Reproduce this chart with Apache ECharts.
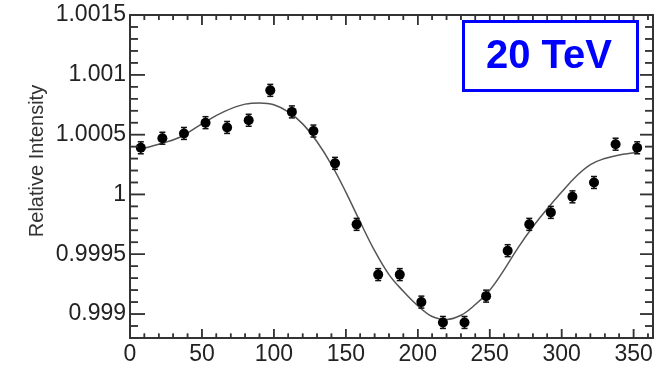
<!DOCTYPE html>
<html><head><meta charset="utf-8">
<script src="https://cdn.jsdelivr.net/npm/echarts@6/dist/echarts.min.js"></script>
<style>html,body{margin:0;padding:0;background:#fff}#c{width:662px;height:368px}</style>
</head><body><div id="c"></div>
<script>
// ---- data ----
const phi = [7.5,22.5,37.5,52.5,67.5,82.5,97.5,112.5,127.5,142.5,157.5,172.5,187.5,202.5,217.5,232.5,247.5,262.5,277.5,292.5,307.5,322.5,337.5,352.5];
const intensity = [1.00039,1.00047,1.00051,1.00060,1.00056,1.00062,1.00087,1.00069,1.00053,1.00026,0.99975,0.99933,0.99933,0.99910,0.99893,0.99893,0.99915,0.99953,0.99975,0.99985,0.99998,1.00010,1.00042,1.00039];
const errors = [0.00005,0.00005,0.00005,0.00005,0.00005,0.00005,0.00005,0.00005,0.00005,0.00005,0.00005,0.00005,0.00005,0.00005,0.00005,0.00005,0.00005,0.00005,0.00005,0.00005,0.00005,0.00005,0.00005,0.00005];
const fitPhi = [7.5,20,35,50,65,80,90,100,110,120,130,140,150,160,170,180,190,200,210,220,230,240,250,260,270,280,290,300,310,320,330,340,352.5];
const fitValues = [1.00038,1.00042,1.00048,1.00059,1.00069,1.000755,1.000765,1.00075,1.00069,1.00059,1.00044,1.00025,1.00002,0.99977,0.99953,0.99933,0.99919,0.99907,0.99898,0.998955,0.99899,0.99908,0.99920,0.99937,0.99956,0.99973,0.99988,1.00002,1.00015,1.00025,1.00030,1.00033,1.00035];
const xTickValues = [0,50,100,150,200,250,300,350];
const xTickLabels = ['0','50','100','150','200','250','300','350'];
const xMinorTicks = [10,20,30,40,60,70,80,90,110,120,130,140,160,170,180,190,210,220,230,240,260,270,280,290,310,320,330,340,360];
const yTickValues = [0.999,0.9995,1,1.0005,1.001,1.0015];
const yTickLabels = ['0.999','0.9995','1','1.0005','1.001','1.0015'];
const yMinorTicks = [0.9988,0.9989,0.9991,0.9992,0.9993,0.9994,0.9996,0.9997,0.9998,0.9999,1.0001,1.0002,1.0003,1.0004,1.0006,1.0007,1.0008,1.0009,1.0011,1.0012,1.0013,1.0014];
const yAxisTitle = 'Relative Intensity';
const boxLabel = '20 TeV';

// ---- chart ----
const chart = echarts.init(document.getElementById('c'), null, {renderer:'canvas'});
const AX = '#333';
const FONT = 'Liberation Sans, Arial, Helvetica, sans-serif';
const xRange = {min:0, max:363.5};
const yRange = {min:0.9988, max:1.0015};
const lineStyle = {color:AX, width:2};
const TW = 1.5;

// tick marks as rect symbols placed at the axis values, shifted inward by half their length
function tickSeries(data, w, h, off){
  return {type:'scatter', xAxisIndex:0, yAxisIndex:0, z:6, clip:false, symbol:'rect',
    symbolSize:[w, h], symbolOffset:off, itemStyle:{color:AX, opacity:1}, emphasis:{disabled:true},
    data:data};
}
const tickSeriesList = [
  tickSeries(xTickValues.map(v=>[v, yRange.min]), TW, 9, [0, -4.5]),
  tickSeries(xMinorTicks.map(v=>[v, yRange.min]), TW, 4.5, [0, -2.25]),
  tickSeries(xTickValues.map(v=>[v, yRange.max]), TW, 10, [0, 5]),
  tickSeries(xMinorTicks.map(v=>[v, yRange.max]), TW, 5, [0, 2.5]),
  tickSeries(yTickValues.map(v=>[xRange.min, v]), 15, TW, [7.5, 0]),
  tickSeries(yMinorTicks.map(v=>[xRange.min, v]), 8, TW, [4, 0]),
  tickSeries(yTickValues.map(v=>[xRange.max, v]), 13, TW, [-6.5, 0]),
  tickSeries(yMinorTicks.map(v=>[xRange.max, v]), 8, TW, [-4, 0])
];

// same ticks also drawn inside the error-bar custom series (first item), via api.coord
function tickChildren(api){
  const out = [], st = {stroke:AX, lineWidth:TW};
  const add = (vals, len, isX) => vals.forEach(v=>{
    if (isX){
      const b = api.coord([v, yRange.min]), t = api.coord([v, yRange.max]);
      out.push({type:'line', shape:{x1:b[0],y1:b[1],x2:b[0],y2:b[1]-len[0]}, style:st});
      out.push({type:'line', shape:{x1:t[0],y1:t[1],x2:t[0],y2:t[1]+len[1]}, style:st});
    } else {
      const l = api.coord([xRange.min, v]), r = api.coord([xRange.max, v]);
      out.push({type:'line', shape:{x1:l[0],y1:l[1],x2:l[0]+len[0],y2:l[1]}, style:st});
      out.push({type:'line', shape:{x1:r[0],y1:r[1],x2:r[0]-len[1],y2:r[1]}, style:st});
    }
  });
  add(xTickValues, [9,10], true); add(xMinorTicks, [4.5,5], true);
  add(yTickValues, [15,13], false); add(yMinorTicks, [8,8], false);
  return out;
}

const option = {
  animation:false,
  backgroundColor:'#fff',
  grid:{left:130, right:9, top:15, bottom:30, containLabel:false, outerBoundsMode:'none'},
  xAxis:[
    {type:'value', position:'bottom', min:xRange.min, max:xRange.max, interval:10,
      splitLine:{show:false}, axisTick:{show:false},
      axisLine:{show:true, onZero:false, lineStyle},
      axisLabel:{show:true, customValues:xTickValues, margin:5, fontSize:23, color:'#222', fontFamily:FONT,
        formatter:(v)=>{const i=xTickValues.findIndex(t=>Math.abs(t-v)<1e-6);return i>=0?xTickLabels[i]:'';}}},
    {type:'value', position:'top', min:xRange.min, max:xRange.max,
      splitLine:{show:false}, axisTick:{show:false}, axisLabel:{show:false},
      axisLine:{show:true, onZero:false, lineStyle}}
  ],
  yAxis:[
    {type:'value', position:'left', min:yRange.min, max:yRange.max, interval:0.0001,
      splitLine:{show:false}, axisTick:{show:false},
      axisLine:{show:true, onZero:false, lineStyle},
      axisLabel:{show:true, customValues:yTickValues, margin:4, fontSize:23, color:'#222', fontFamily:FONT, padding:[8,0,0,0],
        formatter:(v)=>{const i=yTickValues.findIndex(t=>Math.abs(t-v)<1e-9);return i>=0?yTickLabels[i]:'';}}},
    {type:'value', position:'right', min:yRange.min, max:yRange.max,
      splitLine:{show:false}, axisTick:{show:false}, axisLabel:{show:false},
      axisLine:{show:true, onZero:false, lineStyle}}
  ],
  series:[
    {type:'line', xAxisIndex:0, yAxisIndex:0, smooth:0.4, showSymbol:false, silent:true,
      data:fitPhi.map((p,i)=>[p, fitValues[i]]), lineStyle:{color:'#555', width:1.5}, z:2},
    {type:'custom', xAxisIndex:0, yAxisIndex:0, z:3,
      data:phi.map((p,i)=>[p, intensity[i], errors[i]]),
      renderItem:function(params, api){
        const x=api.value(0), y=api.value(1), e=api.value(2);
        const hi=api.coord([x,y+e]), lo=api.coord([x,y-e]);
        const w=3, st={stroke:'#111', lineWidth:1.5};
        const children = [
          {type:'line', shape:{x1:hi[0],y1:hi[1],x2:lo[0],y2:lo[1]}, style:st},
          {type:'line', shape:{x1:hi[0]-w,y1:hi[1],x2:hi[0]+w,y2:hi[1]}, style:st},
          {type:'line', shape:{x1:lo[0]-w,y1:lo[1],x2:lo[0]+w,y2:lo[1]}, style:st}
        ];
        return {type:'group', children: params.dataIndex === 0 ? children.concat(tickChildren(api)) : children};
      }},
    {type:'scatter', xAxisIndex:0, yAxisIndex:0, z:4, symbol:'circle', symbolSize:10,
      data:phi.map((p,i)=>[p, intensity[i]]), itemStyle:{color:'#000', opacity:1}}
  ].concat(tickSeriesList),
  graphic:[
    {type:'text', x:37, y:161, rotation:Math.PI/2, z:60,
      style:{text:yAxisTitle, fontSize:20, fontFamily:FONT, fill:'#333', align:'center', verticalAlign:'middle'}},
    {type:'rect', left:462, top:20, z:60,
      shape:{width:174, height:69}, style:{fill:'#fff', stroke:'#0000ff', lineWidth:3}},
    {type:'text', x:549, y:57, z:61,
      style:{text:boxLabel, fontSize:40, fontWeight:'bold', fontFamily:FONT, fill:'#0000ff', align:'center', verticalAlign:'middle'}}
  ]
};
chart.setOption(option);
</script>
</body></html>
